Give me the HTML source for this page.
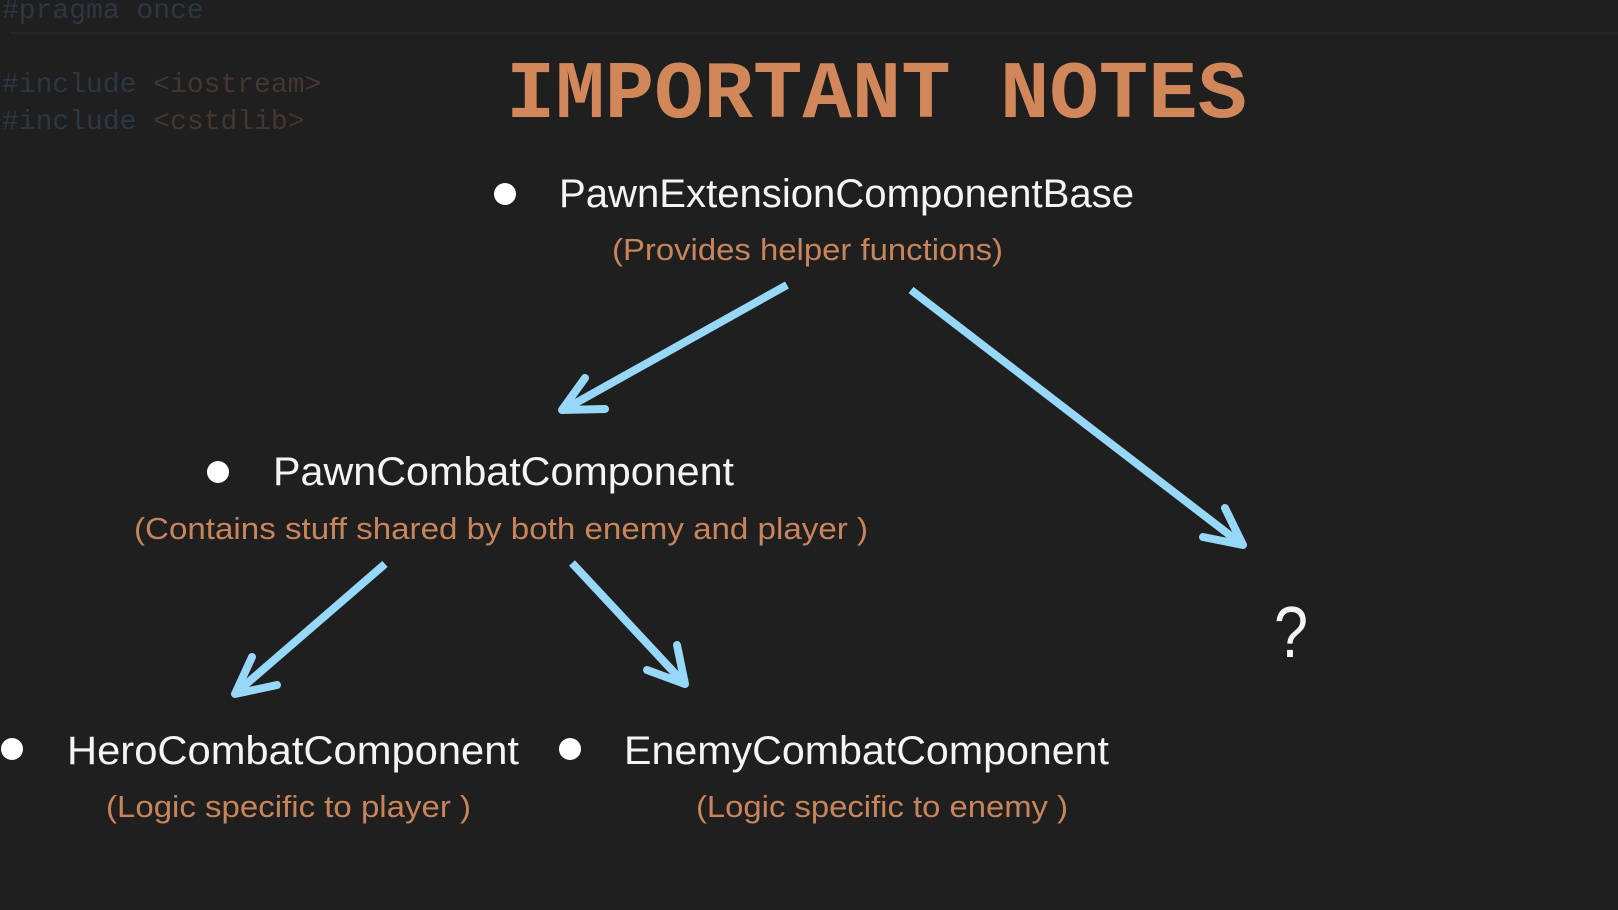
<!DOCTYPE html>
<html><head><meta charset="utf-8"><style>
html,body{margin:0;padding:0;background:#1f1f1f;}
svg{display:block}
</style></head><body>
<svg width="1618" height="910" viewBox="0 0 1618 910" xmlns="http://www.w3.org/2000/svg">
<rect width="1618" height="910" fill="#1f1f1f"/>
<g font-family="Liberation Mono, monospace" font-size="28">
<text x="2" y="18" fill="#2b3744">#pragma once</text>
<text x="2" y="92" fill="#2b3744">#include <tspan fill="#45372f">&lt;iostream&gt;</tspan></text>
<text x="2" y="129" fill="#2b3744">#include <tspan fill="#45372f">&lt;cstdlib&gt;</tspan></text>
</g>
<line x1="10" y1="33" x2="1618" y2="33" stroke="#262626" stroke-width="2"/>
<text x="506" y="117" font-family="Liberation Mono, monospace" font-weight="bold" font-size="82" fill="#d2875a" textLength="741" lengthAdjust="spacingAndGlyphs">IMPORTANT NOTES</text>

<g font-family="Liberation Sans, sans-serif" fill="#f4f4f4" font-size="40">
<circle cx="505" cy="194" r="11" fill="#fff"/>
<text x="559" y="207" textLength="575" lengthAdjust="spacingAndGlyphs">PawnExtensionComponentBase</text>
<circle cx="218" cy="472" r="11" fill="#fff"/>
<text x="273" y="485" textLength="461" lengthAdjust="spacingAndGlyphs">PawnCombatComponent</text>
<circle cx="12" cy="749" r="11" fill="#fff"/>
<text x="67" y="764" textLength="452" lengthAdjust="spacingAndGlyphs">HeroCombatComponent</text>
<circle cx="570" cy="749" r="11" fill="#fff"/>
<text x="624" y="764" textLength="485" lengthAdjust="spacingAndGlyphs">EnemyCombatComponent</text>
<text x="1274" y="657" font-size="72" textLength="34" lengthAdjust="spacingAndGlyphs">?</text>
</g>
<g font-family="Liberation Sans, sans-serif" fill="#c8845a" font-size="31">
<text x="612" y="260" textLength="391" lengthAdjust="spacingAndGlyphs">(Provides helper functions)</text>
<text x="134" y="539" textLength="734" lengthAdjust="spacingAndGlyphs">(Contains stuff shared by both enemy and player )</text>
<text x="106" y="817" textLength="365" lengthAdjust="spacingAndGlyphs">(Logic specific to player )</text>
<text x="696" y="817" textLength="372" lengthAdjust="spacingAndGlyphs">(Logic specific to enemy )</text>
</g>
<g stroke="#97d7f7" stroke-width="8" fill="none" stroke-linecap="round" stroke-linejoin="round">
<line x1="787" y1="285" x2="565" y2="409" stroke-linecap="butt"/>
<polyline points="585,378 562,410 605,409"/>
<line x1="911" y1="290" x2="1240" y2="543" stroke-linecap="butt"/>
<polyline points="1225,508 1243,545 1203,537"/>
<line x1="385" y1="564" x2="237" y2="692" stroke-linecap="butt"/>
<polyline points="252,657 235,694 277,685"/>
<line x1="572" y1="563" x2="683" y2="682" stroke-linecap="butt"/>
<polyline points="677,645 685,684 647,670"/>
</g>
</svg>
</body></html>
